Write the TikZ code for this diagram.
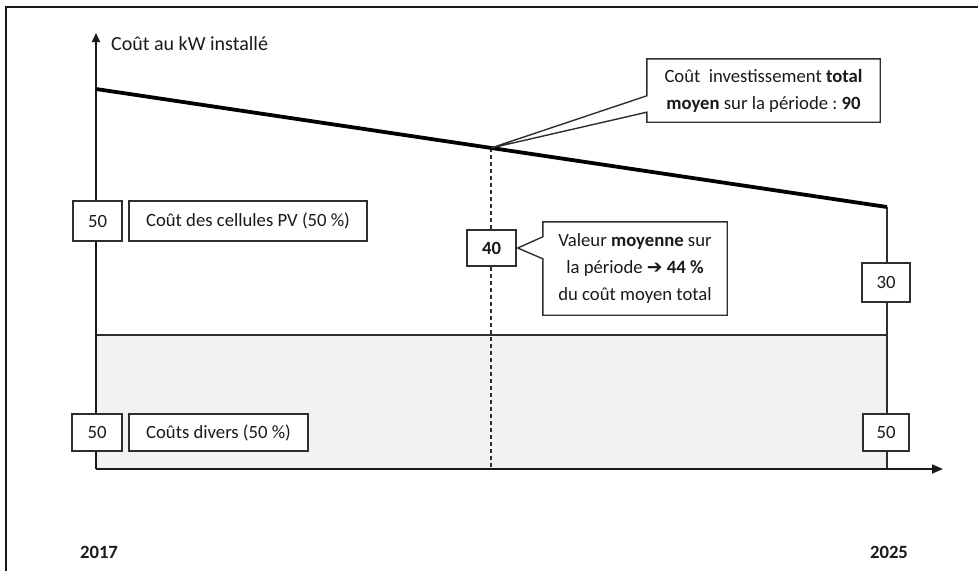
\documentclass[tikz,border=0pt]{standalone}
\usepackage{fontspec}
\setmainfont{Carlito}
\newfontfamily\arrowfont{DejaVu Sans}
\usetikzlibrary{arrows.meta,calc}
\frenchspacing
\definecolor{ink}{HTML}{1A1A1A}
\definecolor{linegray}{HTML}{2E2E2E}
\definecolor{fillgray}{HTML}{F2F2F2}
\tikzset{
  txt/.style={font=\fontsize{18.7}{27}\selectfont, text=ink, inner sep=0pt},
  valbox/.style={txt, draw=linegray, line width=1.4pt, fill=white, align=center},
  axisline/.style={draw=ink, line width=1.7pt},
  thinline/.style={draw=linegray, line width=1.4pt},
  callout/.style={draw=linegray, line width=1.4pt, fill=white},
}
\begin{document}
\begin{tikzpicture}[x=1pt,y=-1pt]
\useasboundingbox (0,0) rectangle (978,571);
% outer frame (top and left edges)
\draw[draw=ink, line width=2pt] (6,571) -- (6,7) -- (978,7);

% coordinates
\coordinate (O) at (96,469);
\coordinate (ytip) at (96,33);
\coordinate (xtip) at (943,469);
\coordinate (A) at (96,89);
\coordinate (B) at (887,207);
\coordinate (M) at (491,148);
\coordinate (Mb) at (491,469);
\coordinate (H1) at (96,335);
\coordinate (H2) at (887,335);
\coordinate (Bb) at (887,469);

% grey band
\fill[fillgray] (H1) rectangle (Bb);
\draw[thinline] (H1) -- (H2);
\draw[thinline] (B) -- (Bb);
% dashed vertical
\draw[thinline, line width=1.2pt, dash pattern=on 4pt off 3pt] (M) -- (Mb);

% axes
\draw[axisline, -{Triangle[length=9pt,width=8pt]}] (O) -- (ytip);
\draw[axisline, -{Triangle[length=11pt,width=9pt]}] (O) -- (xtip);

% thick cost line
\draw[draw=black, line width=3.8pt] (A) -- (B);

% labels
\node[txt, font=\fontsize{20}{27}\selectfont, anchor=west] (ylab) at (111,44) {Coût au kW installé};
\node[txt, font=\fontsize{18.7}{27}\selectfont\bfseries] (y2017) at (99,552) {2017};
\node[txt, font=\fontsize{18.7}{27}\selectfont\bfseries] (y2025) at (889,552) {2025};

% value boxes
\node[valbox, minimum width=49pt, minimum height=40pt] (b50a) at (97.5,221) {50};
\node[valbox, minimum width=238pt, minimum height=40pt] (lpv) at (248,221) {Coût des cellules PV (50 \%)};
\node[valbox, minimum width=50pt, minimum height=37pt] (b50b) at (97,432.5) {50};
\node[valbox, minimum width=179pt, minimum height=37pt] (ldiv) at (218.5,432.5) {Coûts divers (50 \%)};
\node[valbox, minimum width=49pt, minimum height=36pt, font=\fontsize{18.7}{27}\selectfont\bfseries] (b40) at (491.5,248) {40};
\node[valbox, minimum width=48pt, minimum height=39pt] (b30) at (886,282.5) {30};
\node[valbox, minimum width=46pt, minimum height=37pt] (b50c) at (886,432.5) {50};

% callout 2 (average value)
\node[txt, minimum width=184pt, minimum height=93pt, align=center] (c2) at (635,268.5) {};
\draw[callout] (c2.north west) -- (c2.north east) -- (c2.south east) -- (c2.south west)
  -- ($(c2.north west)+(0,37)$) -- ($(b40.east)+(1,0)$) -- ($(c2.north west)+(0,15)$) -- cycle;
\node[txt, align=center] (c2t) at (c2) {Valeur \textbf{moyenne} sur\\la période {\arrowfont\bfseries ➔} \textbf{44 \%}\\du coût moyen total};

% callout 1 (total average)
\node[txt, minimum width=233pt, minimum height=63pt, align=center] (c1) at (763.5,90.5) {};
\draw[callout] (c1.north west) -- (c1.north east) -- (c1.south east) -- (c1.south west)
  -- ($(c1.south west)+(0,-10)$) -- (M) -- ($(c1.north west)+(0,37)$) -- cycle;
\node[txt, align=center] (c1t) at (c1) {Coût\hspace{0.22em} investissement \textbf{total}\\\textbf{moyen} sur la période : \textbf{90}};
\end{tikzpicture}
\end{document}
